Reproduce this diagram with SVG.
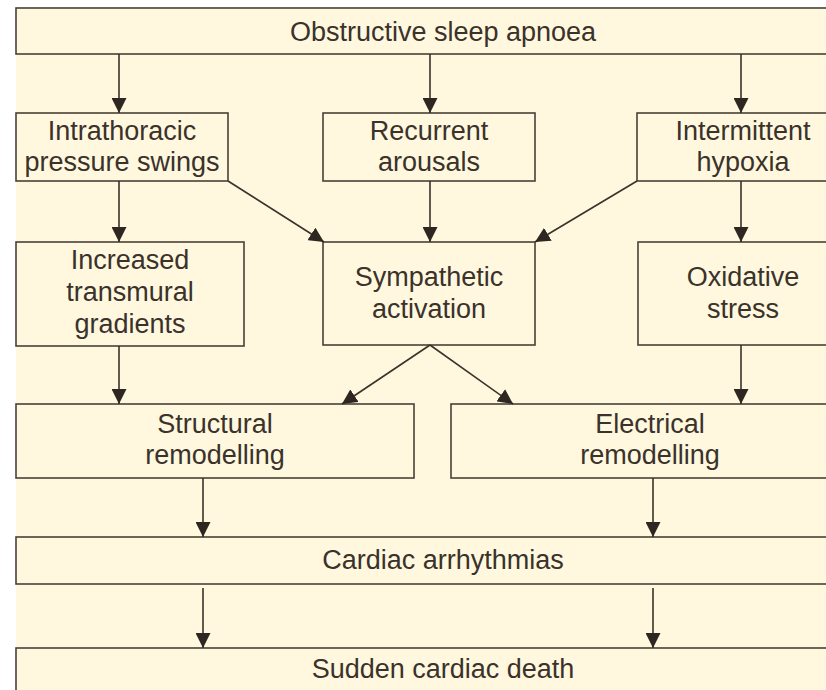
<svg xmlns="http://www.w3.org/2000/svg" width="826" height="690" viewBox="0 0 826 690">
<defs>
<style>
.box{fill:#FFF8DE;stroke:#4a4037;stroke-width:1.6}
.t{font-family:"Liberation Sans",Arial,sans-serif;font-size:27px;fill:#3a322b;text-anchor:middle}
.c{stroke:#3a322b;stroke-width:1.6;fill:none;marker-end:url(#ah)}
</style>
<marker id="ah" markerUnits="userSpaceOnUse" markerWidth="15" markerHeight="15" viewBox="0 0 15 15" refX="15" refY="7.5" orient="auto">
<path d="M0,0 L15,7.5 L0,15 z" fill="#2e2620"/>
</marker>
</defs>
<rect x="0" y="0" width="826" height="690" fill="#ffffff"/>
<rect x="16" y="7" width="810" height="683" fill="#FFF8DE"/>
<g id="osa"><rect class="box" x="16" y="8" width="854" height="46"/><text class="t" x="443" y="41">Obstructive sleep apnoea</text></g>
<g id="itps"><rect class="box" x="16" y="113" width="212" height="68"/><text class="t" x="122" y="140">Intrathoracic</text><text class="t" x="122" y="171">pressure swings</text></g>
<g id="ra"><rect class="box" x="323" y="113" width="212" height="68"/><text class="t" x="429" y="140">Recurrent</text><text class="t" x="429" y="171">arousals</text></g>
<g id="ih"><rect class="box" x="637" y="113" width="212" height="68"/><text class="t" x="743" y="140">Intermittent</text><text class="t" x="743" y="171">hypoxia</text></g>
<g id="itg"><rect class="box" x="16" y="242" width="228" height="104"/><text class="t" x="130" y="269">Increased</text><text class="t" x="130" y="301">transmural</text><text class="t" x="130" y="333">gradients</text></g>
<g id="sa"><rect class="box" x="323" y="242" width="212" height="103"/><text class="t" x="429" y="286">Sympathetic</text><text class="t" x="429" y="318">activation</text></g>
<g id="os"><rect class="box" x="638" y="242" width="211" height="103"/><text class="t" x="743" y="286">Oxidative</text><text class="t" x="743" y="318">stress</text></g>
<g id="sr"><rect class="box" x="16" y="404" width="398" height="74"/><text class="t" x="215" y="433">Structural</text><text class="t" x="215" y="464">remodelling</text></g>
<g id="er"><rect class="box" x="451" y="404" width="398" height="74"/><text class="t" x="650" y="433">Electrical</text><text class="t" x="650" y="464">remodelling</text></g>
<g id="ca"><rect class="box" x="16" y="537" width="854" height="47"/><text class="t" x="443" y="569">Cardiac arrhythmias</text></g>
<g id="scd"><rect class="box" x="16" y="648" width="854" height="60"/><text class="t" x="443" y="678">Sudden cardiac death</text></g>
<g id="connectors">
<line class="c" x1="119" y1="54" x2="119" y2="113"/>
<line class="c" x1="430" y1="54" x2="430" y2="113"/>
<line class="c" x1="741" y1="54" x2="741" y2="113"/>
<line class="c" x1="119" y1="181" x2="119" y2="242"/>
<line class="c" x1="430" y1="181" x2="430" y2="242"/>
<line class="c" x1="741" y1="181" x2="741" y2="242"/>
<line class="c" x1="228" y1="181" x2="324" y2="242"/>
<line class="c" x1="637" y1="181" x2="535" y2="242"/>
<line class="c" x1="119" y1="346" x2="119" y2="404"/>
<line class="c" x1="741" y1="345" x2="741" y2="404"/>
<line class="c" x1="430" y1="345" x2="342" y2="404"/>
<line class="c" x1="430" y1="345" x2="513" y2="404"/>
<line class="c" x1="203" y1="478" x2="203" y2="537"/>
<line class="c" x1="653" y1="478" x2="653" y2="537"/>
<line class="c" x1="203" y1="588" x2="203" y2="648"/>
<line class="c" x1="653" y1="588" x2="653" y2="648"/>
</g>
</svg>
